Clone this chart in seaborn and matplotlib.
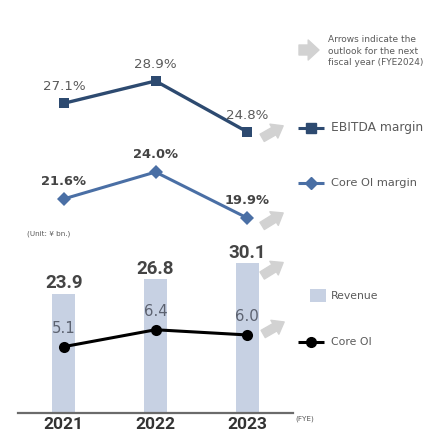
import numpy as np
import pandas as pd
import matplotlib
matplotlib.use("Agg")
import matplotlib.pyplot as plt
from matplotlib.lines import Line2D
from matplotlib.patches import Rectangle
from matplotlib.transforms import offset_copy
import seaborn as sns

sns.set_theme(style="white")
plt.rcParams["font.family"] = ["DejaVu Sans"]

# ---- data -------------------------------------------------------------
years = ["2021", "2022", "2023"]
revenue = [23.9, 26.8, 30.1]          # ¥ bn
core_oi = [5.1, 6.4, 6.0]             # ¥ bn
ebitda_margin = [27.1, 28.9, 24.8]    # %
core_oi_margin = [21.6, 24.0, 19.9]   # %

df = pd.DataFrame({
    "year": years,
    "pos": np.arange(len(years)),
    "revenue": revenue,
    "core_oi": core_oi,
    "ebitda_margin": ebitda_margin,
    "core_oi_margin": core_oi_margin,
})

# ---- styling ----------------------------------------------------------
C_EBITDA = "#2d4a70"
C_COREM = "#4a6fa5"
C_BAR = "#c7d1e3"
C_OI = "#000000"
C_ARROW = "#d2d2d2"
C_TXT = "#5a5a5a"
C_TXT_DARK = "#444444"

W, H = 427, 432
fig = plt.figure(figsize=(W / 100, H / 100), dpi=100)


def px_axes(x0, y0, x1, y1, **kw):
    return fig.add_axes([x0 / W, 1 - y1 / H, (x1 - x0) / W, (y1 - y0) / H], **kw)


def clean(ax, keep_x=False):
    for s in ax.spines.values():
        s.set_visible(False)
    if not keep_x:
        ax.set_xticks([])
    ax.tick_params(axis="both", length=0, labelbottom=False, labelleft=False,
                   labelright=False, labeltop=False)
    ax.set_xlabel("")
    ax.set_ylabel("")
    ax.patch.set_alpha(0)


ARROW_STYLE = "simple,head_length=0.7,head_width=1.05,tail_width=0.55"


def outlook_arrow(ax, x, y, tail, head):
    """Grey block arrow placed next to a data point, offsets in pixels."""
    t_from = offset_copy(ax.transData, fig=fig, x=tail[0], y=tail[1], units="dots")
    t_to = offset_copy(ax.transData, fig=fig, x=head[0], y=head[1], units="dots")
    ax.annotate("", xy=(x, y), xycoords=t_to, xytext=(x, y), textcoords=t_from,
                arrowprops=dict(arrowstyle=ARROW_STYLE, color=C_ARROW,
                                mutation_scale=11, shrinkA=0, shrinkB=0),
                annotation_clip=False)


# ---- overlay for legend items and notes (pixel coordinates) ----------
ov = fig.add_axes([0, 0, 1, 1])
ov.set_xlim(0, W)
ov.set_ylim(H, 0)
ov.axis("off")

ov.annotate("", xy=(319, 50), xytext=(299, 50),
            arrowprops=dict(arrowstyle="simple,head_length=0.65,head_width=1.2,tail_width=0.6",
                            color=C_ARROW, mutation_scale=12, shrinkA=0, shrinkB=0))
ov.text(328, 51, "Arrows indicate the\noutlook for the next\nfiscal year (FYE2024)",
        fontsize=6.5, color=C_TXT, va="center", ha="left", linespacing=1.35)

ov.add_line(Line2D([298, 324], [128, 128], color=C_EBITDA, lw=2.2, solid_capstyle="butt"))
ov.add_line(Line2D([311], [128], color=C_EBITDA, marker="s", markersize=6.5))
ov.text(331, 128, "EBITDA margin", fontsize=8.8, color=C_TXT, va="center")

ov.add_line(Line2D([298, 324], [183, 183], color=C_COREM, lw=2.2, solid_capstyle="butt"))
ov.add_line(Line2D([311], [183], color=C_COREM, marker="D", markersize=6.5))
ov.text(331, 183, "Core OI margin", fontsize=8.2, color=C_TXT, va="center")

ov.add_patch(Rectangle((310, 289), 16, 13, color=C_BAR, lw=0))
ov.text(331, 296, "Revenue", fontsize=7.8, color=C_TXT, va="center")

ov.add_line(Line2D([298, 324], [342, 342], color=C_OI, lw=2.2, solid_capstyle="butt"))
ov.add_line(Line2D([311], [342], color=C_OI, marker="o", markersize=7))
ov.text(331, 342, "Core OI", fontsize=7.8, color=C_TXT, va="center")

ov.text(27, 234, "(Unit: \u00a5 bn.)", fontsize=5.2, color=C_TXT, va="center")
ov.text(295, 419, "(FYE)", fontsize=5.2, color=C_TXT, va="center")

XL = (-0.5, 2.5)

# ---- EBITDA margin ----------------------------------------------------
ax_e = px_axes(18, 30, 293, 140)
sns.lineplot(data=df, x="pos", y="ebitda_margin", ax=ax_e, color=C_EBITDA, lw=2.4,
             marker="s", markersize=7, markeredgewidth=0)
ax_e.set_xlim(*XL)
ax_e.set_ylim(24.14, 33.01)
clean(ax_e)
for x, v in zip(df["pos"], ebitda_margin):
    ax_e.annotate(f"{v}%", (x, v), xytext=(0, 9.5), textcoords="offset points",
                  ha="center", va="baseline", fontsize=9.6, color=C_TXT)
outlook_arrow(ax_e, 2, ebitda_margin[2], (15, -6), (36, 6))

# ---- Core OI margin ---------------------------------------------------
ax_m = px_axes(18, 140, 293, 240)
sns.lineplot(data=df, x="pos", y="core_oi_margin", ax=ax_m, color=C_COREM, lw=2.2,
             marker="D", markersize=7, markeredgewidth=0)
ax_m.set_xlim(*XL)
ax_m.set_ylim(17.93, 26.86)
clean(ax_m)
for x, v in zip(df["pos"], core_oi_margin):
    ax_m.annotate(f"{v}%", (x, v), xytext=(0, 10), textcoords="offset points",
                  ha="center", va="baseline", fontsize=9.4, fontweight="bold",
                  color=C_TXT_DARK)
outlook_arrow(ax_m, 2, core_oi_margin[2], (15, -8), (36, 5))

# ---- Revenue bars and Core OI ----------------------------------------
ax_b = px_axes(18, 240, 293, 413)
sns.barplot(data=df, x="year", y="revenue", ax=ax_b, color=C_BAR, width=0.25,
            saturation=1, edgecolor="none")
ax_b.set_xlim(*XL)
ax_b.set_ylim(0, 34.6)
ax_b.patch.set_alpha(0)
for s in ["top", "right", "left"]:
    ax_b.spines[s].set_visible(False)
ax_b.spines["bottom"].set_color("#6b6b6b")
ax_b.spines["bottom"].set_linewidth(1.6)
ax_b.set_yticks([])
ax_b.set_xlabel("")
ax_b.set_ylabel("")
outlook_arrow(ax_b, 2, revenue[2], (15, -13), (36, 0))

ax_o = ax_b.twinx()
sns.lineplot(data=df, x="pos", y="core_oi", ax=ax_o, color=C_OI, lw=2.2,
             marker="o", markersize=8, markeredgewidth=0)
ax_o.set_xlim(*XL)
ax_o.set_ylim(0, 13.3)
clean(ax_o, keep_x=True)
for x, v in zip(df["pos"], core_oi):
    ax_o.annotate(f"{v}", (x, v), xytext=(0, 10), textcoords="offset points",
                  ha="center", va="baseline", fontsize=10.8, color="#5c6270")
outlook_arrow(ax_o, 2, core_oi[2], (16, 1), (37, 13))

# year labels and value labels on the bar axis
ax_b.set_xticks(df["pos"], years)
ax_b.tick_params(axis="x", length=0, pad=3, labelbottom=True)
for lab in ax_b.get_xticklabels():
    lab.set_fontfamily("Roboto")
    lab.set_fontweight("bold")
    lab.set_fontsize(12.5)
    lab.set_color("#333333")
for x, v in zip(df["pos"], revenue):
    ax_b.annotate(f"{v}", (x, v), xytext=(0, 3.6), textcoords="offset points",
                  ha="center", va="baseline", fontsize=13.5, fontweight="bold",
                  fontfamily="Roboto", color=C_TXT_DARK)

fig.savefig("out.png", dpi=100)
